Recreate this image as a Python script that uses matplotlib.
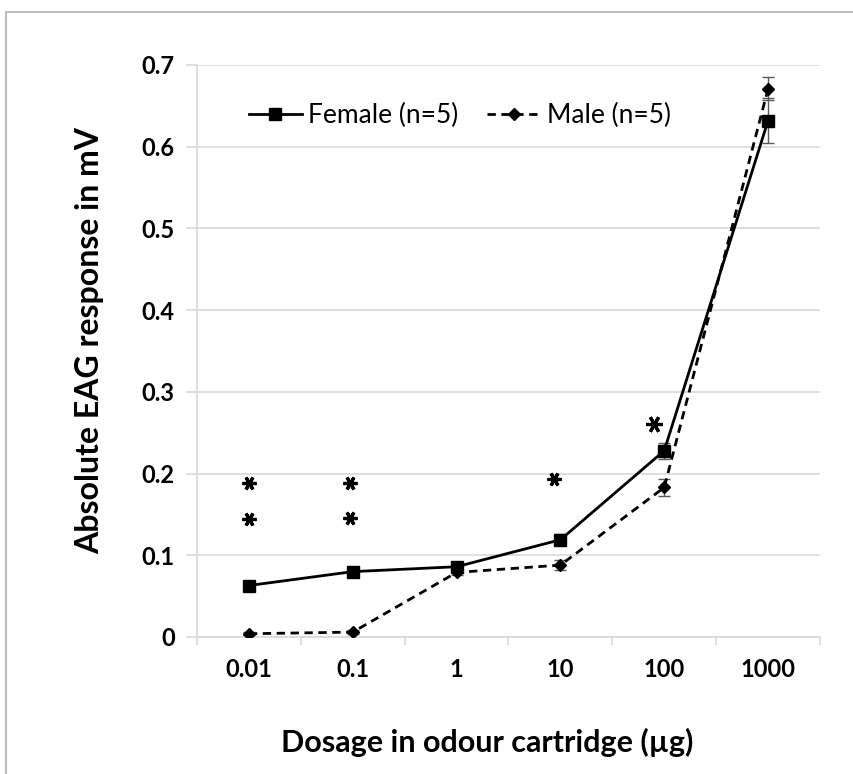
import numpy as np
import matplotlib.pyplot as plt
from matplotlib.lines import Line2D

# --- data ---
dosages = ["0.01", "0.1", "1", "10", "100", "1000"]
female = [0.063, 0.080, 0.086, 0.119, 0.228, 0.632]
female_err = [0.006, 0.004, 0.004, 0.007, 0.010, 0.028]
male = [0.004, 0.006, 0.079, 0.088, 0.183, 0.671]
male_err = [0.002, 0.002, 0.003, 0.006, 0.010, 0.014]

# significance asterisks (category position, height in mV, size)
star_x = [0.0, 0.0, 0.97, 0.97, 2.94, 3.9]
star_y = [0.189, 0.145, 0.189, 0.146, 0.193, 0.261]
star_size = [10, 10, 10, 10, 10, 12]

plt.rcParams['font.family'] = ['Lato', 'DejaVu Sans']

fig = plt.figure(figsize=(8.54, 7.74), dpi=100)
ax = fig.add_axes([197 / 854, 1 - 637 / 774, (820 - 197) / 854, (637 - 65) / 774])

x = np.arange(len(dosages))
grid_c = '#d9d9d9'

ax.errorbar(x, female, yerr=female_err, fmt='none', ecolor='#595959', elinewidth=1, capsize=4, zorder=2)
ax.errorbar(x, male, yerr=male_err, fmt='none', ecolor='#595959', elinewidth=1, capsize=4, zorder=2)
ax.plot(x, female, color='black', lw=2, marker='s', markersize=9, label='Female (n=5)', zorder=3)
ax.plot(x, male, color='black', lw=2, ls=(0, (3, 2)), marker='D', markersize=6, label='Male (n=5)', zorder=3)

# asterisk markers (six-armed star, vertical arm up)
for sx, sy, ss in zip(star_x, star_y, star_size):
    ax.plot(sx, sy, marker=(6, 2, 90), markersize=ss, mew=2.3, color='black', ls='none')

ax.set_xlim(-0.5, len(dosages) - 0.5)
ax.set_ylim(0, 0.7)
ax.set_yticks(np.arange(0, 0.71, 0.1))
ax.set_yticklabels(['0', '0.1', '0.2', '0.3', '0.4', '0.5', '0.6', '0.7'])
ax.set_xticks(x)
ax.set_xticklabels(dosages)
ax.set_xticks(np.arange(-0.5, len(dosages)), minor=True)

ax.yaxis.grid(True, color=grid_c, lw=1.2)
ax.set_axisbelow(True)
for s in ['top', 'right']:
    ax.spines[s].set_visible(False)
for s in ['left', 'bottom']:
    ax.spines[s].set_color(grid_c)
    ax.spines[s].set_linewidth(1.2)

ax.tick_params(axis='y', length=8, width=1.2, color=grid_c, pad=8, labelsize=17)
ax.tick_params(axis='x', which='major', length=0, pad=15, labelsize=17)
ax.tick_params(axis='x', which='minor', length=6, width=1.2, color=grid_c)
for lab in ax.get_xticklabels() + ax.get_yticklabels():
    lab.set_fontweight('bold')

ax.legend(loc='upper left', bbox_to_anchor=(0.045, 0.975), ncol=2, frameon=False,
          fontsize=19, handlelength=2.0, handletextpad=0.25, columnspacing=1.1)

fig.text(90 / 854, 1 - 340 / 774, 'Absolute EAG response in mV', rotation=90,
         ha='center', va='center', fontsize=23, fontweight='bold')
fig.text(487 / 854, 1 - 742 / 774, 'Dosage in odour cartridge (\u00b5g)',
         ha='center', va='center', fontsize=22, fontweight='bold')

# outer frame (top and left edges only)
fig.add_artist(Line2D([6 / 854, 1], [1 - 12 / 774, 1 - 12 / 774], color='#bfbfbf', lw=1.5))
fig.add_artist(Line2D([6 / 854, 6 / 854], [0, 1 - 12 / 774], color='#bfbfbf', lw=1.5))

fig.savefig('out.png', dpi=100)
